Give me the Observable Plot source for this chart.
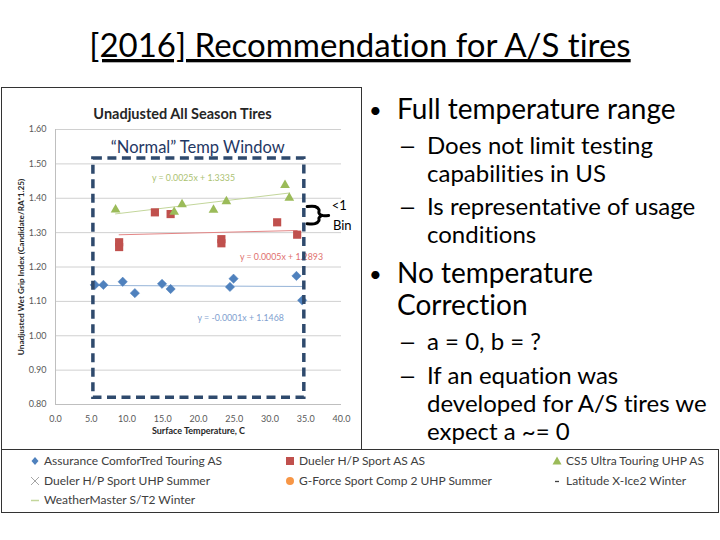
<!DOCTYPE html>
<html>
<head>
<meta charset="utf-8">
<script src="https://cdn.jsdelivr.net/npm/d3@7"></script>
<script src="https://cdn.jsdelivr.net/npm/@observablehq/plot@0.6"></script>
<style>
  html, body { margin: 0; padding: 0; background: #fff; }
  #slide { position: relative; width: 720px; height: 540px; overflow: hidden; font-family: Lato, "Open Sans", sans-serif; }
  #overlay { position: absolute; left: 0; top: 0; font-variant-ligatures: none; }
  #chartbox { position: absolute; left: 1px; top: 87px; width: 361px; height: 363px; border: 1px solid #333; box-sizing: border-box; background: #fff; }
  #legendbox { position: absolute; left: 1px; top: 449px; width: 718px; height: 64px; border: 1px solid #333; box-sizing: border-box; }
  svg text { font-variant-ligatures: none; }
</style>
</head>
<body>
<div id="slide">
  <div id="chartbox"></div>
  <div id="legendbox"></div>
  <svg id="overlay" width="720" height="540"></svg>
</div>
<script>
// ---------------- data ----------------
const xTicks = [0, 5, 10, 15, 20, 25, 30, 35, 40];
const yTicks = [0.8, 0.9, 1.0, 1.1, 1.2, 1.3, 1.4, 1.5, 1.6];

const assuranceX = [5.5, 6.7, 9.4, 11.1, 14.9, 16.1, 24.4, 24.9, 33.7, 34.5];
const assuranceY = [1.148, 1.148, 1.157, 1.124, 1.151, 1.136, 1.142, 1.166, 1.174, 1.103];

const duelerX = [8.9, 8.9, 13.9, 16.1, 23.2, 23.2, 31.0, 33.8];
const duelerY = [1.272, 1.258, 1.359, 1.354, 1.281, 1.269, 1.330, 1.294];

const cs5X = [8.4, 16.6, 17.7, 22.1, 23.9, 32.1, 32.7];
const cs5Y = [1.367, 1.360, 1.382, 1.366, 1.391, 1.438, 1.401];

// trendline equations [slope, intercept]
const assuranceFit = [-0.0001, 1.1468];
const duelerFit = [0.0005, 1.2893];
const cs5Fit = [0.0025, 1.3335];
const fitLabels = ["y = -0.0001x + 1.1468", "y = 0.0005x + 1.2893", "y = 0.0025x + 1.3335"];
const fitLabelX = [25.9, 31.6, 19.3];
const fitLabelY = [1.050, 1.2275, 1.457];

// "Normal" temperature window annotation
const windowX = [5.3, 34.8];
const windowY = [0.82, 1.516];
const windowLabel = "\u201CNormal\u201D Temp Window";
const windowLabelPos = [19.9, 1.548];

// "<1 Bin" bracket annotation
const bracketTopX = [35.2, 36.3, 36.85, 36.85, 37.25, 38.2];
const bracketTopY = [1.376, 1.376, 1.367, 1.357, 1.350, 1.350];
const bracketBotX = [35.2, 36.3, 36.85, 36.85, 37.25];
const bracketBotY = [1.326, 1.326, 1.335, 1.343, 1.350];
const bracketLabels = ["<1", "Bin"];
const bracketLabelX = [39.7, 40.1];
const bracketLabelY = [1.379, 1.321];

const seriesNames = [
  "Assurance ComforTred Touring AS", "Dueler H/P Sport AS AS", "CS5 Ultra Touring UHP AS",
  "Dueler H/P Sport UHP Summer", "G-Force Sport Comp 2 UHP Summer", "Latitude X-Ice2 Winter",
  "WeatherMaster S/T2 Winter"
];

const slideTitle = "[2016] Recommendation for A/S tires";
const chartTitle = "Unadjusted All Season Tires";
const xLabel = "Surface Temperature, C";
const yLabel = "Unadjusted Wet Grip Index (Candidate/RA*1.25)";

const bullets = [
  {level: 1, text: "Full temperature range", bullet: true},
  {level: 2, text: "Does not limit testing", bullet: true},
  {level: 2, text: "capabilities in US", bullet: false},
  {level: 2, text: "Is representative of usage", bullet: true},
  {level: 2, text: "conditions", bullet: false},
  {level: 1, text: "No temperature", bullet: true},
  {level: 1, text: "Correction", bullet: false},
  {level: 2, text: "a = 0, b = ?", bullet: true},
  {level: 2, text: "If an equation was", bullet: true},
  {level: 2, text: "developed for A/S tires we", bullet: false},
  {level: 2, text: "expect a ~= 0", bullet: false}
];
const bulletBaselines = [119, 154, 182, 215, 243, 283, 315, 350, 384, 412, 440];

// ---------------- build tables ----------------
const zip = (xs, ys) => xs.map((x, i) => ({x, y: ys[i]}));
const assurance = zip(assuranceX, assuranceY);
const dueler = zip(duelerX, duelerY);
const cs5 = zip(cs5X, cs5Y);
const fitLine = (xs, [a, b]) => {
  const [lo, hi] = d3.extent(xs);
  return [{x: lo, y: a * lo + b}, {x: hi, y: a * hi + b}];
};
const fitTable = fitLabels.map((t, i) => ({t, x: fitLabelX[i], y: fitLabelY[i]}));
const fitColors = ["#7f9fcf", "#e0706e", "#abc271"];

const chart = Plot.plot({
  width: 359,
  height: 361,
  marginLeft: 53,
  marginRight: 20,
  marginTop: 41,
  marginBottom: 45,
  x: {domain: [0, 40]},
  y: {domain: [0.8, 1.6]},
  style: {fontFamily: "Lato, sans-serif", fontSize: "9px", color: "#595959", background: "transparent", overflow: "visible"},
  marks: [
    Plot.ruleY(yTicks, {stroke: "#d0d0d0", strokeWidth: 1}),
    Plot.ruleY([0.8], {stroke: "#bfbfbf", strokeWidth: 1}),
    Plot.ruleX([0], {stroke: "#bfbfbf", strokeWidth: 1}),
    Plot.axisX({ticks: xTicks, tickSize: 0, tickPadding: 11, tickFormat: d3.format(".1f"), label: null, fill: "#595959"}),
    Plot.axisY({ticks: yTicks, tickSize: 0, tickPadding: 9, tickFormat: d3.format(".2f"), label: null, fill: "#595959"}),
    // trendlines
    Plot.line(fitLine(assuranceX, assuranceFit), {x: "x", y: "y", stroke: "#95b3d7", strokeWidth: 1}),
    Plot.line(fitLine(duelerX, duelerFit), {x: "x", y: "y", stroke: "#e38585", strokeWidth: 1}),
    Plot.line(fitLine(cs5X, cs5Fit), {x: "x", y: "y", stroke: "#c3d69b", strokeWidth: 1}),
    // points
    Plot.dot(assurance, {x: "x", y: "y", symbol: "diamond2", r: 4.2, fill: "#4f81bd", stroke: "#4f81bd", strokeWidth: 0.5}),
    Plot.dot(dueler, {x: "x", y: "y", symbol: "square", r: 4.6, fill: "#c0504d"}),
    Plot.dot(cs5, {x: "x", y: "y", symbol: "triangle", r: 3.6, fill: "#9bbb59"}),
    // equation labels
    Plot.text(fitTable, {x: "x", y: "y", text: "t", fill: (d, i) => fitColors[i], fontSize: 8.8}),
    // normal window
    Plot.rect([{x1: windowX[0], x2: windowX[1], y1: windowY[0], y2: windowY[1]}],
      {x1: "x1", x2: "x2", y1: "y1", y2: "y2", fill: "none", stroke: "#2f4a6d", strokeWidth: 3.5, strokeDasharray: "9,5.5"}),
    Plot.text([windowLabel], {x: windowLabelPos[0], y: windowLabelPos[1], fill: "#1f3864", fontSize: 16.5}),
    // bracket
    Plot.line(zip(bracketTopX, bracketTopY), {x: "x", y: "y", stroke: "#000", strokeWidth: 3, strokeLinejoin: "round", curve: "catmull-rom"}),
    Plot.line(zip(bracketBotX, bracketBotY), {x: "x", y: "y", stroke: "#000", strokeWidth: 3, strokeLinejoin: "round", curve: "catmull-rom"}),
    Plot.text(bracketLabels, {x: (d, i) => bracketLabelX[i], y: (d, i) => bracketLabelY[i], text: d => d, fill: "#000", fontSize: 13}),
    // titles
    Plot.text([chartTitle], {frameAnchor: "top", dx: -16, dy: -21, fontSize: 14.5, fontWeight: "bold", fill: "#262626"}),
    Plot.text([xLabel], {frameAnchor: "bottom", dy: 29, fontSize: 9, fontWeight: "bold", fill: "#262626"}),
    Plot.text([yLabel], {frameAnchor: "left", textAnchor: "middle", dx: -34, rotate: -90, fontSize: 8.2, fontWeight: "bold", fill: "#262626"})
  ]
});
document.getElementById("chartbox").appendChild(chart);

// ---------------- slide text & legend ----------------
const svg = d3.select("#overlay");
svg.append("text").attr("x", 360).attr("y", 57).attr("text-anchor", "middle")
  .attr("font-family", "Lato, sans-serif").attr("font-size", 33).attr("fill", "#000")
  .attr("text-decoration", "underline").text(slideTitle);

bullets.forEach((b, i) => {
  const y = bulletBaselines[i];
  const fs = b.level === 1 ? 28 : 24;
  const textX = b.level === 1 ? 397 : 427;
  if (b.bullet) {
    if (b.level === 1) {
      svg.append("text").attr("x", 369).attr("y", y - 1)
        .attr("font-family", "Lato, sans-serif").attr("font-size", 22).attr("fill", "#000")
        .text("\u2022");
    } else {
      svg.append("text").attr("x", 398).attr("y", y)
        .attr("font-family", "Lato, sans-serif").attr("font-size", fs).attr("fill", "#000")
        .attr("textLength", 19).attr("lengthAdjust", "spacingAndGlyphs")
        .text("\u2013");
    }
  }
  svg.append("text").attr("x", textX).attr("y", y)
    .attr("font-family", "Lato, sans-serif").attr("font-size", fs).attr("fill", "#000")
    .text(b.text);
});

// legend
const legendCols = [35, 290, 557];
const legendRows = [461, 481, 500];
const legendMarks = ["diamond", "square", "triangle", "cross", "circle", "dash", "line"];
const legendColors = ["#4f81bd", "#c0504d", "#9bbb59", "#a6a6a6", "#f79646", "#404040", "#c3d69b"];
seriesNames.forEach((name, i) => {
  const cx = legendCols[i % 3], cy = legendRows[Math.floor(i / 3)];
  const g = svg.append("g").attr("transform", `translate(${cx},${cy})`);
  const m = legendMarks[i], c = legendColors[i];
  if (m === "diamond") g.append("path").attr("d", "M0,-4L3.5,0L0,4L-3.5,0Z").attr("fill", c);
  if (m === "square") g.append("rect").attr("x", -4).attr("y", -4).attr("width", 8).attr("height", 8).attr("fill", c);
  if (m === "triangle") g.append("path").attr("d", "M0,-4.5L4.5,3.5L-4.5,3.5Z").attr("fill", c);
  if (m === "cross") g.append("path").attr("d", "M-4,-4L4,4M4,-4L-4,4").attr("stroke", c).attr("stroke-width", 1);
  if (m === "circle") g.append("circle").attr("r", 4).attr("fill", c);
  if (m === "dash") g.append("path").attr("d", "M-2,0.5L2,0.5").attr("stroke", c).attr("stroke-width", 1.3);
  if (m === "line") g.append("path").attr("d", "M-4,0.5L4,0.5").attr("stroke", c).attr("stroke-width", 1.5);
  g.append("text").attr("x", 9).attr("y", 4.3).attr("font-family", "Lato, sans-serif")
    .attr("font-size", 12).attr("fill", "#404040").text(name);
});
</script>
</body>
</html>
